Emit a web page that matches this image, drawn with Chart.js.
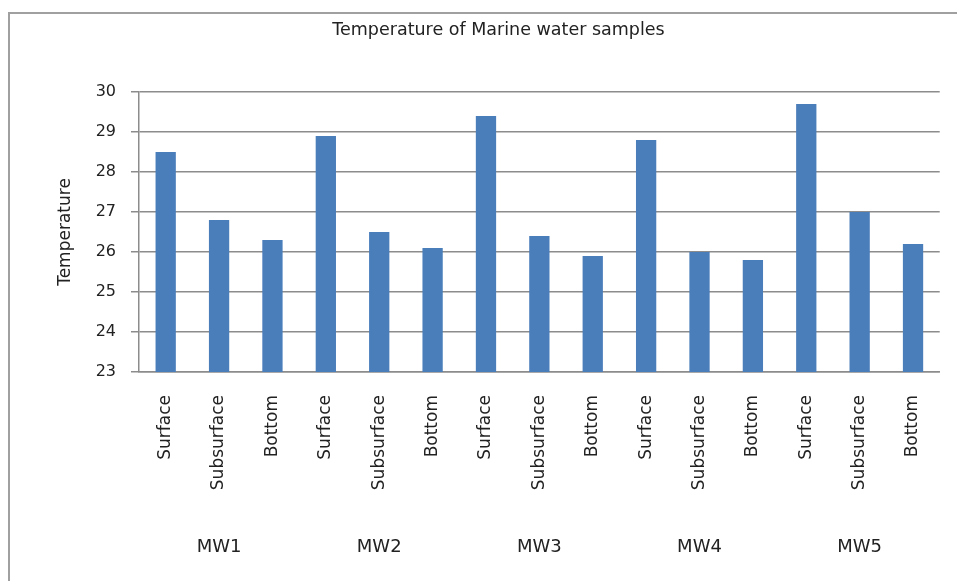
<!DOCTYPE html>
<html>
<head>
<meta charset="utf-8">
<script src="https://cdn.jsdelivr.net/npm/chart.js@4"></script>
<style>
  html, body { margin: 0; padding: 0; background: #fff; }
  body { width: 957px; height: 581px; position: relative; overflow: hidden; }
  .frame {
    position: absolute; left: 8px; top: 12px; width: 960px; height: 600px;
    border-left: 2px solid #a0a0a0; border-top: 2px solid #a0a0a0;
  }
  #wrap { position: absolute; left: 0; top: 0; width: 957px; height: 581px; }
</style>
</head>
<body>
<div class="frame"></div>
<div id="wrap"><canvas id="chart"></canvas></div>
<script>
// ── Data ─────────────────────────────────────────────────────────────────────
const SAMPLES = ['Surface', 'Subsurface', 'Bottom'];
const STATIONS = ['MW1', 'MW2', 'MW3', 'MW4', 'MW5'];
const TEMPS = [
  28.5, 26.8, 26.3,   // MW1
  28.9, 26.5, 26.1,   // MW2
  29.4, 26.4, 25.9,   // MW3
  28.8, 26.0, 25.8,   // MW4
  29.7, 27.0, 26.2    // MW5
];
const Y_MIN = 23;
const Y_MAX = 30;

const BLUE = '#4a7ebb';
const GRID = '#8c8c8c';
const FONT = "'DejaVu Sans', Verdana, sans-serif";

const labels = STATIONS.flatMap(() => SAMPLES);

// ── Chart ────────────────────────────────────────────────────────────────────
new Chart(document.getElementById('chart').getContext('2d'), {
  type: 'bar',
  data: {
    labels,
    datasets: [{
      label: 'Temperature',
      data: TEMPS,
      backgroundColor: BLUE,
      borderWidth: 0,
      categoryPercentage: 1,
      barPercentage: 0.38
    }]
  },
  options: {
    responsive: true,
    maintainAspectRatio: false,
    animation: false,
    layout: { padding: { left: 57, right: 17, top: 0, bottom: 0 } },
    plugins: {
      legend: { display: false },
      tooltip: { enabled: false },
      title: {
        display: true,
        text: 'Temperature of Marine water samples',
        color: '#222',
        font: { family: FONT, size: 17.5, weight: 'normal', lineHeight: 1.2 },
        padding: { top: 19.5, bottom: 51.5 }
      }
    },
    scales: {
      x: {
        type: 'category',
        position: 'bottom',
        weight: 0,
        grid: { display: false, drawTicks: false },
        border: { display: true, color: GRID, width: 1.5 },
        ticks: {
          autoSkip: false,
          minRotation: 90,
          maxRotation: 90,
          padding: 23,
          color: '#222',
          font: { family: FONT, size: 17 }
        },
        afterFit: s => { s.height = 150; }
      },
      x2: {
        type: 'category',
        position: 'bottom',
        weight: 1,
        labels: STATIONS,
        offset: true,
        grid: { display: false, drawTicks: false },
        border: { display: false },
        ticks: {
          padding: 15,
          maxRotation: 0,
          color: '#222',
          font: { family: FONT, size: 18 }
        },
        afterFit: s => { s.height = 59; }
      },
      y: {
        min: Y_MIN,
        max: Y_MAX,
        ticks: {
          stepSize: 1,
          padding: 15,
          color: '#222',
          font: { family: FONT, size: 16 }
        },
        grid: { color: GRID, lineWidth: 1.5, tickLength: 8 },
        border: { display: true, color: GRID, width: 1.5 },
        title: {
          display: true,
          text: 'Temperature',
          color: '#222',
          padding: 0,
          font: { family: FONT, size: 17, lineHeight: 1 }
        },
        afterFit: s => { s.width = 82; }
      }
    }
  }
});
</script>
</body>
</html>
